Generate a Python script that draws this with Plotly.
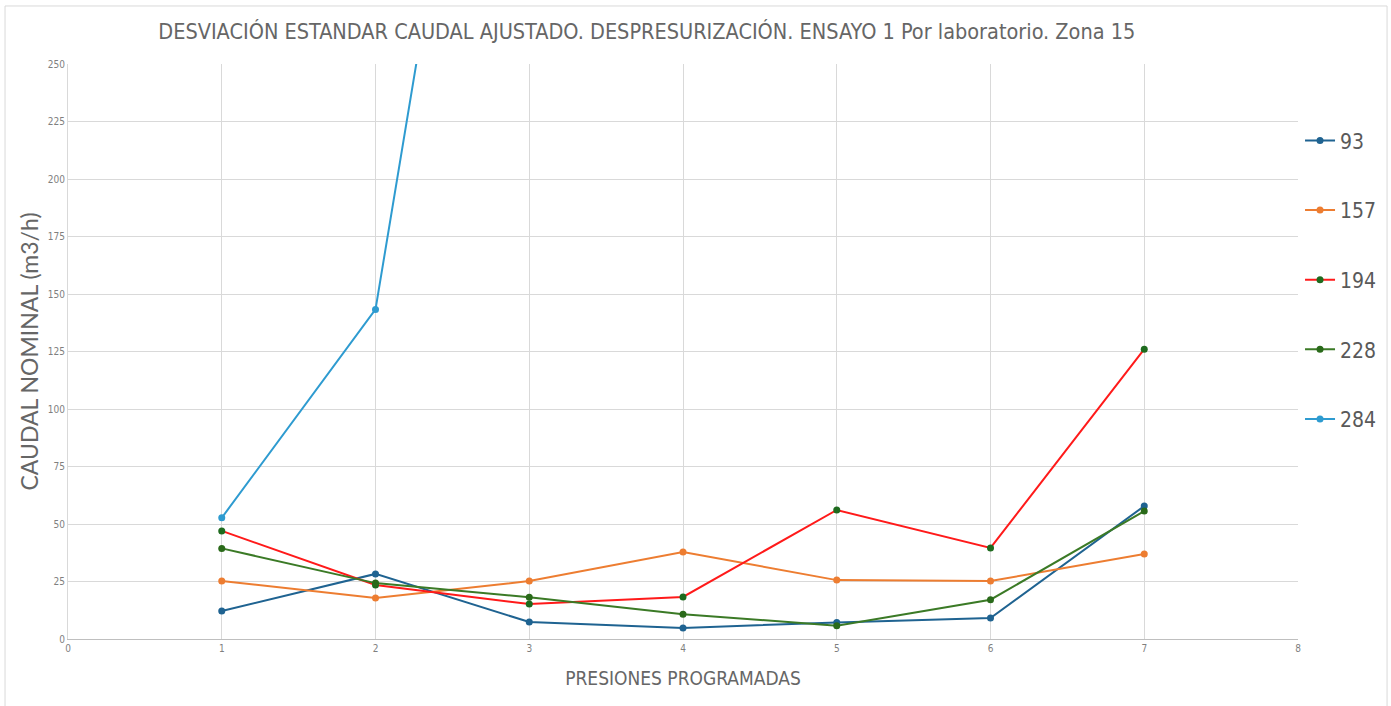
import plotly.graph_objects as go

x_vals = [1, 2, 3, 4, 5, 6, 7]
s93 = [12.2, 28.3, 7.4, 4.8, 7.2, 9.1, 57.8]
s157 = [25.2, 17.8, 25.2, 37.8, 25.6, 25.2, 37.0]
s194 = [47.0, 23.5, 15.2, 18.3, 56.1, 39.6, 126.0]
s228 = [39.4, 24.3, 18.2, 10.8, 5.8, 17.1, 55.6]
x284 = [1, 2, 3]
s284 = [52.7, 143.3, 546.0]

series = [
    ("93", x_vals, s93, "#1F6391", "#1F6391"),
    ("157", x_vals, s157, "#ED7D31", "#ED7D31"),
    ("194", x_vals, s194, "#FF1A1A", "#1E6B1E"),
    ("228", x_vals, s228, "#3B7A26", "#2A6A1A"),
    ("284", x284, s284, "#2E9BD0", "#2E9BD0"),
]

fig = go.Figure()
for name, xs, ys, lc, mc in series:
    fig.add_trace(go.Scatter(
        x=xs, y=ys, name=name, mode="lines+markers",
        line=dict(color=lc, width=2),
        marker=dict(color=mc, size=7),
        legendgroup=name,
    ))

grid = "#D9D9D9"
narrow = "Liberation Sans Narrow, DejaVu Sans Condensed, Lato, sans-serif"
fig.update_layout(
    width=1391, height=706,
    margin=dict(l=68, r=93, t=64, b=67, autoexpand=False),
    paper_bgcolor="white", plot_bgcolor="white",
    font=dict(family="Lato, sans-serif", color="#595959"),
    title=dict(
        text="DESVIACIÓN ESTANDAR CAUDAL AJUSTADO. DESPRESURIZACIÓN. ENSAYO 1 Por laboratorio. Zona 15",
        x=0.465, xanchor="center", y=0.955, yanchor="middle",
        font=dict(size=21.5, color="#666666", family=narrow),
    ),
    xaxis=dict(
        range=[0, 8], dtick=1, tick0=0, showgrid=True, gridcolor=grid, gridwidth=1,
        showline=True, linecolor="#BFBFBF", linewidth=1, zeroline=False,
        ticks="", tickfont=dict(size=10, color="#7F7F7F", family=narrow),
        title=dict(text="PRESIONES PROGRAMADAS", font=dict(size=19, color="#666666", family=narrow), standoff=18),
        automargin=False,
    ),
    yaxis=dict(
        range=[0, 250], dtick=25, tick0=0, showgrid=True, gridcolor=grid, gridwidth=1,
        showline=True, linecolor="#D9D9D9", linewidth=1, zeroline=False,
        ticks="", tickfont=dict(size=10, color="#7F7F7F", family=narrow),
        title=dict(text="CAUDAL NOMINAL (m3/h)", font=dict(size=23, color="#666666"), standoff=2),
        automargin=False,
    ),
    legend=dict(
        xref="container", x=0.9346, xanchor="left", y=0.902, yanchor="top",
        font=dict(size=21, color="#595959", family=narrow),
        tracegroupgap=39.3, itemwidth=30,
        bgcolor="rgba(0,0,0,0)",
    ),
    shapes=[dict(
        type="rect", xref="paper", yref="paper",
        x0=-0.0512, x1=1.0724, y0=-0.3, y1=1.1009,
        line=dict(color="#D9D9D9", width=1), fillcolor="rgba(0,0,0,0)", layer="below",
    )],
)

post = ("document.body.style.margin='0';document.body.style.padding='0';"
        "document.body.style.overflow='hidden';"
        "document.documentElement.style.overflow='hidden';"
        "var gd=document.getElementById('{plot_id}');"
        "Plotly.relayout(gd,{width:1391,height:706});")

fig.write_html("out.html", post_script=post,
               config={"responsive": False, "displayModeBar": False})
